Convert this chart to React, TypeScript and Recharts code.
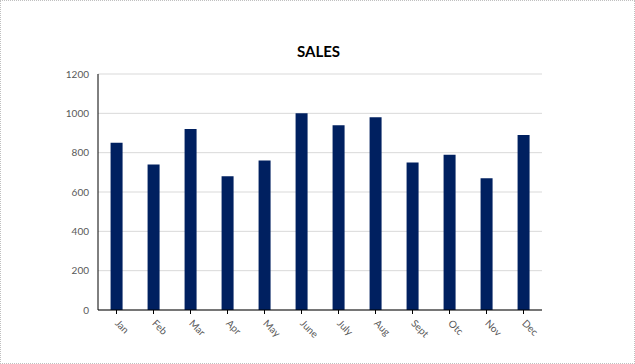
import React from 'react';
import { BarChart, Bar, XAxis, YAxis, CartesianGrid } from 'recharts';

const months = ['Jan', 'Feb', 'Mar', 'Apr', 'May', 'June', 'July', 'Aug', 'Sept', 'Otc', 'Nov', 'Dec'];
const sales = [850, 740, 920, 680, 760, 1000, 940, 980, 750, 790, 670, 890];
const yTicks = [0, 200, 400, 600, 800, 1000, 1200];

const data = months.map((m, i) => ({ month: m, sales: sales[i] }));

const font = 'Lato, "Open Sans", sans-serif';

const MonthTick = (props: any) => {
  const { x, y, payload } = props;
  return (
    <text
      x={x - 2}
      y={y + 8}
      transform={`rotate(45, ${x - 2}, ${y + 8})`}
      textAnchor="start"
      fill="#595959"
      fontSize={10}
      fontFamily={font}
    >
      {payload.value}
    </text>
  );
};

export default function App() {
  return (
    <div
      style={{
        position: 'absolute',
        top: 0,
        left: 0,
        width: 635,
        height: 364,
        boxSizing: 'border-box',
        border: '1px dotted #c0c0c0',
        background: '#fff',
      }}
    >
      <div
        style={{
          position: 'absolute',
          top: 41,
          left: 0,
          width: 635,
          textAlign: 'center',
          fontFamily: font,
          fontWeight: 'bold',
          fontSize: 15,
          color: '#000',
        }}
      >
        SALES
      </div>
      <BarChart
        width={633}
        height={362}
        data={data}
        margin={{ top: 73, right: 92, bottom: 0, left: 0 }}
        barCategoryGap="34%"
        style={{ position: 'absolute', top: 0, left: 0 }}
      >
        <CartesianGrid vertical={false} stroke="#d9d9d9" />
        <YAxis
          domain={[0, 1200]}
          ticks={yTicks}
          width={97}
          tickSize={0}
          tickMargin={9}
          axisLine={{ stroke: '#000' }}
          tick={{ fill: '#595959', fontSize: 10, fontFamily: font }}
        />
        <XAxis
          dataKey="month"
          interval={0}
          height={53}
          tickSize={4}
          tickLine={{ stroke: '#000' }}
          axisLine={{ stroke: '#000' }}
          tick={<MonthTick />}
        />
        <Bar dataKey="sales" fill="#002060" isAnimationActive={false} />
      </BarChart>
    </div>
  );
}
